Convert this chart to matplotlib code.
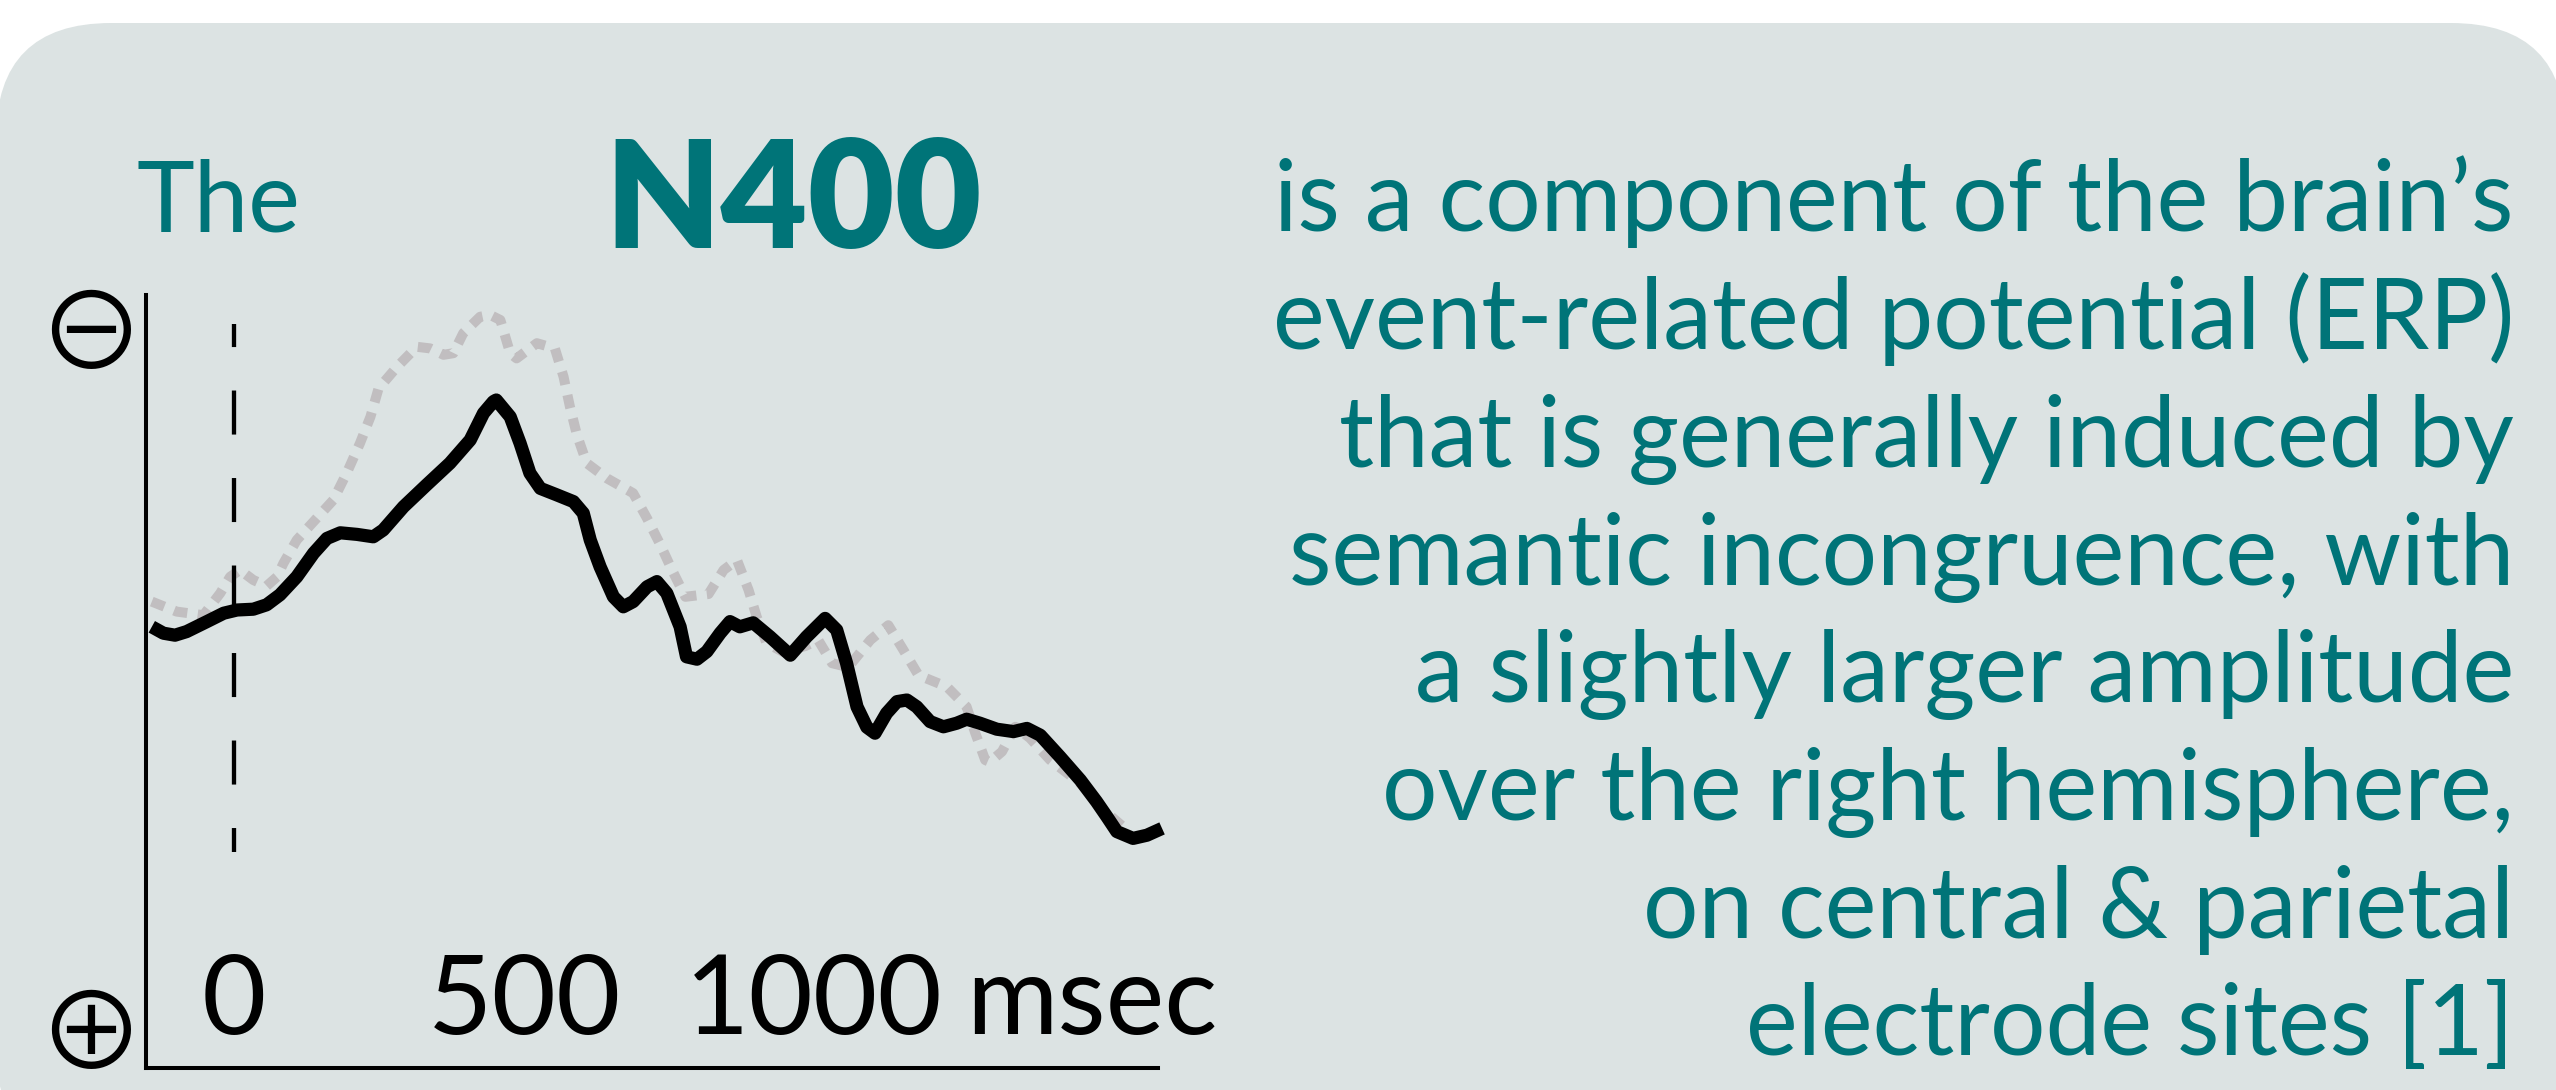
import numpy as np
import matplotlib
matplotlib.use("Agg")
import matplotlib.pyplot as plt
from matplotlib.patches import FancyBboxPatch

# circled signs come from the CJK font (thin strokes); math mode keeps their box tight
plt.rcParams["mathtext.fontset"] = "custom"
plt.rcParams["mathtext.rm"] = "Noto Sans CJK JP"

# ERP traces: time in msec, amplitude in arbitrary uV (negative up)
black_t = [-142, -122, -102, -82, -47, -18, 5, 33, 56, 79, 108, 137, 160, 183, 212, 240, 257,
           292, 332, 372, 407, 430, 447, 452, 476, 493, 510, 528, 556, 585, 602, 614, 631, 654,
           671, 688, 712, 729, 746, 769, 780, 798, 815, 838, 855, 872, 895, 924, 959, 987, 1019,
           1039, 1056, 1074, 1091, 1105, 1125, 1143, 1160, 1177, 1200, 1223, 1246, 1263, 1286,
           1315, 1344, 1367, 1390, 1424, 1459, 1487, 1505, 1522, 1550, 1574, 1600]
black_v = [0.42, 0.58, 0.63, 0.54, 0.29, 0.08, 0.0, -0.02, -0.13, -0.38, -0.83, -1.42, -1.79,
           -1.93, -1.89, -1.83, -2.0, -2.58, -3.13, -3.67, -4.25, -4.92, -5.21, -5.25, -4.83,
           -4.17, -3.42, -3.04, -2.88, -2.71, -2.42, -1.75, -1.08, -0.33, -0.08, -0.21, -0.58,
           -0.71, -0.42, 0.42, 1.17, 1.23, 1.04, 0.58, 0.29, 0.42, 0.32, 0.67, 1.13, 0.67, 0.21,
           0.5, 1.33, 2.42, 2.93, 3.08, 2.58, 2.29, 2.25, 2.42, 2.79, 2.92, 2.83, 2.73, 2.83,
           2.98, 3.04, 2.96, 3.13, 3.67, 4.25, 4.79, 5.17, 5.54, 5.71, 5.63, 5.46]

gray_t = [-142, -99, -53, -24, -7, 10, 33, 56, 74, 85, 108, 137, 171, 194, 217, 235, 249, 281,
          315, 338, 361, 378, 395, 424, 441, 459, 476, 487, 522, 553, 568, 579, 591, 608, 643,
          688, 712, 735, 755, 778, 818, 844, 867, 887, 901, 918, 947, 985, 1007, 1031, 1059,
          1097, 1128, 1154, 1180, 1229, 1263, 1278, 1295, 1303, 1324, 1347, 1372, 1407, 1459,
          1499, 1533, 1545]
gray_v = [-0.21, 0.04, 0.13, -0.42, -0.83, -1.0, -0.75, -0.6, -0.83, -1.17, -1.75, -2.21, -2.75,
          -3.42, -4.17, -4.83, -5.54, -6.08, -6.58, -6.54, -6.38, -6.42, -6.92, -7.33, -7.38,
          -7.25, -6.42, -6.29, -6.67, -6.54, -5.83, -5.08, -4.38, -3.67, -3.29, -2.92, -2.29,
          -1.63, -1.0, -0.33, -0.4, -1.0, -1.25, -0.5, 0.17, 0.83, 1.05, 0.9, 0.75, 1.33, 1.43,
          0.75, 0.38, 1.0, 1.63, 1.92, 2.42, 3.08, 3.75, 3.8, 3.54, 2.92, 3.2, 3.75, 4.33, 5.0,
          5.42, 5.45]

tick_vals = [0, 500, 1000]
tick_labels = ["0", "500", "1000"]
unit_label = "msec"

lines = ["is a component of the brain\u2019s",
         "event-related potential (ERP)",
         "that is generally induced by",
         "semantic incongruence, with",
         "a slightly larger amplitude",
         "over the right hemisphere,",
         "on central & parietal",
         "electrode sites [1]"]

teal = "#007478"
boxcol = "#dce3e3"
graycol = "#c1bec0"

W, H = 2556, 1090
fig = plt.figure(figsize=(W / 100, H / 100), dpi=100)
fig.patch.set_facecolor("white")

# background axes in pixel units
bg = fig.add_axes([0, 0, 1, 1])
bg.set_xlim(0, W)
bg.set_ylim(H, 0)
bg.axis("off")
bg.add_patch(FancyBboxPatch((-4, 23), W + 14, 1140,
                            boxstyle="round,pad=0,rounding_size=115",
                            fc=boxcol, ec="none"))

bg.text(137, 231.5, "The", family="Lato", fontsize=70.5, color=teal, va="baseline", ha="left")
bg.text(604, 248, "N400", family="Lato", fontweight="heavy", fontsize=108, color=teal,
        va="baseline", ha="left")
for i, s in enumerate(lines):
    bg.text(2514, 231.5 + i * 117.7, s, family="Lato", fontsize=70.5, color=teal,
            va="baseline", ha="right")

bg.text(84.5, 339, r"$\ominus$", fontsize=77, color="black", ha="center", va="center")
bg.text(84.5, 1039, r"$\oplus$", fontsize=77, color="black", ha="center", va="center")

# ERP axes
x0, x1, ytop, ybot = 146, 1158, 295, 1068
ax = fig.add_axes([x0 / W, (H - ybot) / H, (x1 - x0) / W, (ybot - ytop) / H])
ax.patch.set_alpha(0)
ax.set_xlim(-152, 1593)
ax.set_ylim(11.45, -7.875)
for sp in ["top", "right"]:
    ax.spines[sp].set_visible(False)
for sp in ["left", "bottom"]:
    ax.spines[sp].set_linewidth(2.9)
    ax.spines[sp].set_capstyle("projecting")
ax.set_xticks([])
ax.set_yticks([])

lw_d = 3.1
ax.plot([0, 0], [-7.15, 6.05], color="black", lw=lw_d,
        ls=(15.1 / lw_d, (31.7 / lw_d, 31.3 / lw_d)), zorder=2)
ax.plot(gray_t, gray_v, color=graycol, lw=7.2, ls=(0, (1.35, 1.05)),
        dash_capstyle="butt", dash_joinstyle="round", clip_on=False, zorder=1)
ax.plot(black_t, black_v, color="black", lw=9.5, solid_capstyle="butt",
        solid_joinstyle="round", clip_on=False, zorder=3)

for v, lab in zip(tick_vals, tick_labels):
    ax.text(v, 0.044, lab, transform=ax.get_xaxis_transform(), family="Lato",
            fontsize=80, color="black", ha="center", va="baseline")
ax.text(1262, 0.044, unit_label, transform=ax.get_xaxis_transform(), family="Lato",
        fontsize=80, color="black", ha="left", va="baseline")

fig.savefig("out.png", dpi=100, facecolor="white")
